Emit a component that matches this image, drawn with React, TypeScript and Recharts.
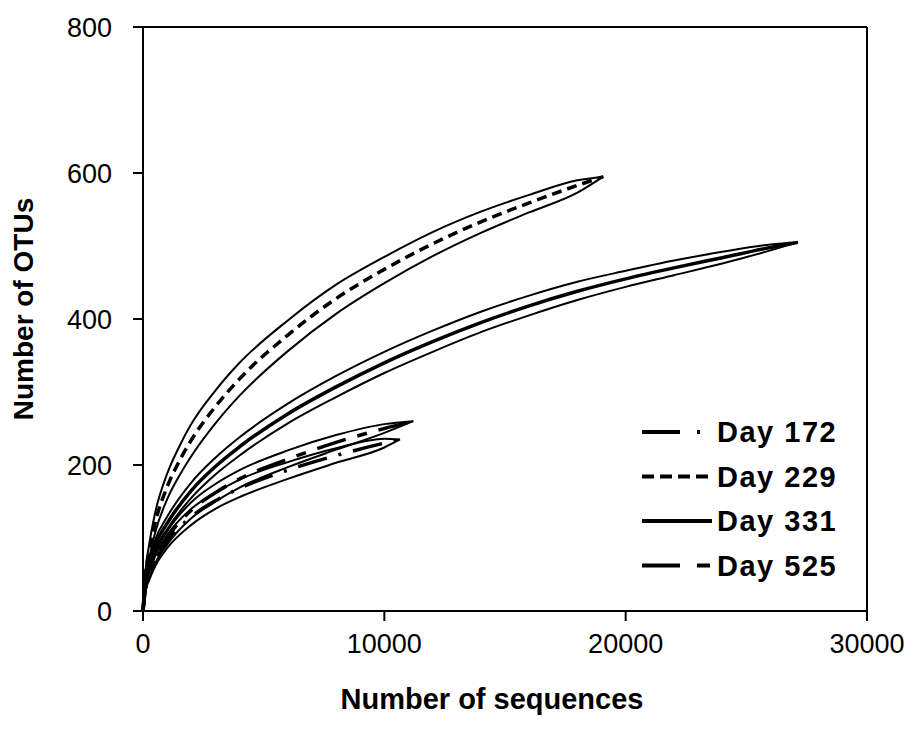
import { LineChart, Line, XAxis, YAxis, ReferenceLine, Legend } from "recharts";

const FONT = "'Liberation Sans', Arial, Helvetica, sans-serif";

const xTicks = [0, 10000, 20000, 30000];
const yTicks = [0, 200, 400, 600, 800];

// Day 172
const seq172 = [0, 100, 250, 500, 1000, 2000, 3000, 4000, 6000, 8000, 10000, 10650];
const mean172 = [0, 30, 47, 68, 95, 129, 151, 168, 193, 213, 230, 235];
const upper172 = [0, 33, 52, 75, 104, 140, 162, 180, 204, 223, 236, 235];
const lower172 = [0, 27, 42, 61, 86, 118, 140, 156, 181, 203, 224, 235];

// Day 229
const seq229 = [0, 100, 250, 500, 1000, 1500, 2000, 3000, 4000, 6000, 8000, 10000, 12000, 14000, 16000, 18000, 19070];
const mean229 = [0, 48, 80, 120, 170, 205, 234, 280, 318, 378, 428, 468, 503, 533, 559, 583, 595];
const upper229 = [0, 54, 90, 134, 188, 225, 256, 302, 340, 398, 447, 485, 519, 547, 570, 590, 595];
const lower229 = [0, 43, 71, 107, 153, 185, 212, 257, 295, 356, 407, 449, 486, 518, 546, 573, 595];

// Day 331
const seq331 = [0, 100, 250, 500, 1000, 2000, 3000, 4000, 6000, 8000, 10000, 12000, 14000, 16000, 18000, 20000, 22000, 24000, 26000, 27140];
const mean331 = [0, 38, 62, 90, 120, 165, 198, 225, 270, 307, 340, 369, 395, 418, 438, 455, 470, 484, 498, 505];
const upper331 = [0, 41, 67, 97, 129, 176, 210, 238, 284, 322, 355, 384, 410, 432, 451, 466, 480, 492, 502, 505];
const lower331 = [0, 35, 58, 84, 112, 155, 187, 213, 257, 293, 326, 355, 382, 405, 426, 444, 460, 476, 494, 505];

// Day 525
const seq525 = [0, 100, 250, 500, 1000, 2000, 3000, 4000, 6000, 8000, 10000, 11200];
const mean525 = [0, 32, 50, 72, 100, 138, 162, 181, 208, 231, 250, 260];
const upper525 = [0, 35, 55, 79, 109, 149, 174, 193, 220, 241, 256, 260];
const lower525 = [0, 29, 45, 65, 91, 127, 150, 169, 197, 221, 244, 260];

const toPoints = (xs: number[], ys: number[]) => xs.map((x, i) => ({ x, y: ys[i] }));

const series = [
  { name: "Day 172", seq: seq172, mean: mean172, upper: upper172, lower: lower172, dash: "30 12 3 12", legendDash: "38 17 3 40" },
  { name: "Day 229", seq: seq229, mean: mean229, upper: upper229, lower: lower229, dash: "10 6", legendDash: "12 6" },
  { name: "Day 331", seq: seq331, mean: mean331, upper: upper331, lower: lower331, dash: undefined, legendDash: undefined },
  { name: "Day 525", seq: seq525, mean: mean525, upper: upper525, lower: lower525, dash: "30 12 10 12", legendDash: "38 17 13 40" },
];

const renderLegend = () => (
  <svg width={270} height={185} style={{ display: "block" }}>
    {series.map((s, i) => {
      const cy = 24 + i * 44.5;
      return (
        <g key={s.name}>
          <line x1={8} x2={78} y1={cy} y2={cy} stroke="#000" strokeWidth={4} strokeDasharray={s.legendDash} />
          <text
            x={83}
            y={cy + 10}
            fontFamily={FONT}
            fontWeight="bold"
            fontSize={29}
            letterSpacing={1.5}
            fill="#000"
          >
            {s.name}
          </text>
        </g>
      );
    })}
  </svg>
);

export default function App() {
  return (
    <LineChart width={898} height={726} margin={{ top: 19, right: 39, bottom: 0, left: 0 }}>
      <XAxis
        type="number"
        dataKey="x"
        domain={[0, 30000]}
        ticks={xTicks}
        height={123}
        tickSize={10}
        tickMargin={13}
        axisLine={{ stroke: "#000", strokeWidth: 2 }}
        tickLine={{ stroke: "#000", strokeWidth: 2 }}
        tick={{ fill: "#000", fontSize: 27, fontFamily: FONT }}
        label={{
          content: () => (
            <text x={484} y={701} textAnchor="middle" fontFamily={FONT} fontWeight="bold" fontSize={29} fill="#000">
              Number of sequences
            </text>
          ),
        }}
      />
      <YAxis
        type="number"
        dataKey="y"
        domain={[0, 800]}
        ticks={yTicks}
        width={135}
        tickSize={10}
        tickMargin={21}
        axisLine={{ stroke: "#000", strokeWidth: 2 }}
        tickLine={{ stroke: "#000", strokeWidth: 2 }}
        tick={{ fill: "#000", fontSize: 27, fontFamily: FONT }}
        label={{
          content: () => (
            <text
              x={25}
              y={301}
              transform="rotate(-90 25 301)"
              textAnchor="middle"
              fontFamily={FONT}
              fontWeight="bold"
              fontSize={28}
              fill="#000"
            >
              Number of OTUs
            </text>
          ),
        }}
      />
      <ReferenceLine y={800} stroke="#000" strokeWidth={2} ifOverflow="visible" />
      <ReferenceLine x={30000} stroke="#000" strokeWidth={2} ifOverflow="visible" />
      {series.map((s) => (
        <Line
          key={s.name + "-upper"}
          data={toPoints(s.seq, s.upper)}
          dataKey="y"
          type="monotone"
          stroke="#000"
          strokeWidth={2}
          dot={false}
          activeDot={false}
          legendType="none"
          isAnimationActive={false}
        />
      ))}
      {series.map((s) => (
        <Line
          key={s.name + "-lower"}
          data={toPoints(s.seq, s.lower)}
          dataKey="y"
          type="monotone"
          stroke="#000"
          strokeWidth={2}
          dot={false}
          activeDot={false}
          legendType="none"
          isAnimationActive={false}
        />
      ))}
      {series.map((s) => (
        <Line
          key={s.name}
          name={s.name}
          data={toPoints(s.seq, s.mean)}
          dataKey="y"
          type="monotone"
          stroke="#000"
          strokeWidth={3.5}
          strokeDasharray={s.dash}
          dot={false}
          activeDot={false}
          isAnimationActive={false}
        />
      ))}
      <Legend
        layout="vertical"
        align="center"
        verticalAlign="middle"
        content={renderLegend}
        wrapperStyle={{ left: 626, top: 400, width: 270, height: 185 }}
      />
    </LineChart>
  );
}
